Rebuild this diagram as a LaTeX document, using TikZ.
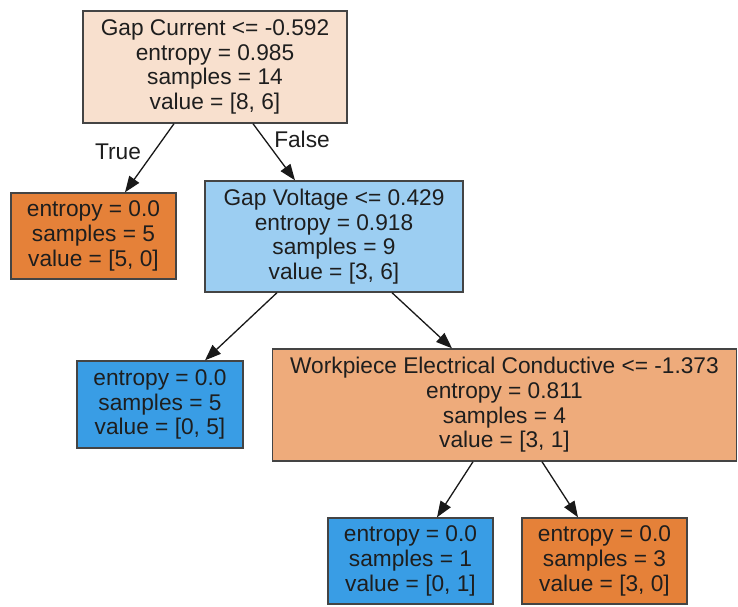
\documentclass[tikz,border=0pt]{standalone}
\usepackage{fontspec}
\setmainfont{Liberation Sans}
\usetikzlibrary{arrows.meta}
\definecolor{rootc}{HTML}{F8E0CE}
\definecolor{orangec}{HTML}{E58139}
\definecolor{bluec}{HTML}{399DE5}
\definecolor{gvc}{HTML}{9CCEF2}
\definecolor{wpc}{HTML}{EEAB7B}
\definecolor{edgec}{HTML}{444444}
\definecolor{txtc}{HTML}{1E1E1E}
\tikzset{
  treebox/.style={draw=edgec, line width=1.4pt, inner sep=0pt, align=center,
    text=txtc, font=\fontsize{22.7}{24.7}\selectfont},
  innerbox/.style={treebox, minimum height=112pt},
  leafbox/.style={treebox, minimum width=165pt, minimum height=86pt},
  arr/.style={draw=black!90, line width=1.3pt, -{Triangle[length=16pt,width=12pt]}},
  lbl/.style={text=txtc, font=\fontsize{22.7}{24.7}\selectfont, inner sep=0pt}
}
\begin{document}
\begin{tikzpicture}[x=1pt,y=-1pt]
\useasboundingbox[fill=white] (0,0) rectangle (738,606);
\node[innerbox, fill=rootc, minimum width=264pt] (root) at (215,67)
  {Gap Current <= -0.592\\entropy = 0.985\\samples = 14\\value = [8, 6]};
\node[leafbox, fill=orangec] (l1) at (93.5,236)
  {entropy = 0.0\\samples = 5\\value = [5, 0]};
\node[innerbox, fill=gvc, minimum width=258pt, minimum height=111pt] (gv) at (334,236.5)
  {Gap Voltage <= 0.429\\entropy = 0.918\\samples = 9\\value = [3, 6]};
\node[leafbox, fill=bluec, minimum width=166pt, minimum height=87pt] (l2) at (160,404.5)
  {entropy = 0.0\\samples = 5\\value = [0, 5]};
\node[innerbox, fill=wpc, minimum width=464pt] (wp) at (504.5,405)
  {Workpiece Electrical Conductive <= -1.373\\entropy = 0.811\\samples = 4\\value = [3, 1]};
\node[leafbox, fill=bluec] (l3) at (410.5,561)
  {entropy = 0.0\\samples = 1\\value = [0, 1]};
\node[leafbox, fill=orangec] (l4) at (604.5,561)
  {entropy = 0.0\\samples = 3\\value = [3, 0]};

\draw[arr] ([xshift=-41pt]root.south) -- ([xshift=31.5pt]l1.north);
\draw[arr] ([xshift=38pt]root.south) -- ([xshift=-39pt]gv.north);
\draw[arr] ([xshift=-57pt]gv.south) -- ([xshift=45pt]l2.north);
\draw[arr] ([xshift=58pt]gv.south) -- ([xshift=-52.5pt]wp.north);
\draw[arr] ([xshift=-31.5pt]wp.south) -- ([xshift=26.5pt]l3.north);
\draw[arr] ([xshift=37.5pt]wp.south) -- ([xshift=-26.5pt]l4.north);

\node[lbl] (tlbl) at (118,152) {True};
\node[lbl] (flbl) at (302,139) {False};
\end{tikzpicture}
\end{document}
